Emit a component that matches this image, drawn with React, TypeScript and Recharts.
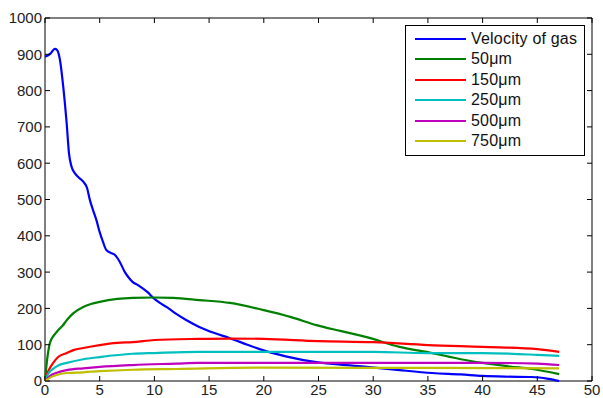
import React from "react";
import { Legend, Line, LineChart, ReferenceArea, XAxis, YAxis } from "recharts";

const velocityX = [0, 0.5, 0.9, 1.1, 1.37, 1.67, 1.98, 2.19, 2.43, 2.74, 3.1, 3.5, 3.85, 4.1, 4.4, 4.7, 5.0, 5.3, 5.6, 6.0, 6.4, 6.8, 7.3, 7.7, 8.0, 8.5, 8.9, 9.4, 9.9, 10.5, 11.1, 12, 12.9, 14.1, 15.5, 16.9, 18.5, 19.9, 22, 24.8, 27, 29.4, 32.4, 35.4, 38, 40, 42, 44.5, 46, 47];
const velocityY = [893, 902, 915, 912, 884, 810, 710, 628, 590, 572, 560, 549, 531, 499, 470, 443, 410, 383, 361, 353, 347, 330, 300, 283, 273, 264, 256, 244, 229, 215, 204, 185, 168, 149, 132, 118, 100, 85, 68, 52, 45, 39, 30, 22, 18, 14, 12, 11, 6, 0];

const um50X = [0, 0.2, 0.45, 0.8, 1.2, 1.6, 2.0, 2.6, 3.5, 4.2, 5, 6.6, 8, 10, 11.7, 14.1, 16.9, 19.9, 22.5, 24.8, 27, 29.4, 32.4, 35.4, 38, 40, 42.5, 44.5, 47];
const um50Y = [0, 60, 105, 125, 140, 152, 168, 187, 204, 212, 218, 226, 229, 230, 229, 223, 215, 196, 176, 154, 138, 121, 94, 77, 60, 50, 40, 33, 19];

const um150X = [0, 0.2, 0.45, 0.8, 1.2, 2, 2.6, 3.5, 5, 6.6, 8, 10, 14, 17, 20, 25, 30, 35, 40, 45, 47];
const um150Y = [0, 20, 36, 52, 66, 77, 85, 91, 99, 105, 107, 113, 116, 117, 116, 110, 107, 99, 94, 88, 80];

const um250X = [0, 0.3, 0.8, 1.3, 2, 3.5, 5, 8, 10, 14, 30, 35, 40, 45, 47];
const um250Y = [0, 20, 35, 44, 50, 60, 66, 75, 77, 80, 80, 77, 77, 72, 69];

const um500X = [0, 0.5, 1, 2, 3.5, 5, 8, 12, 14, 40, 45, 47];
const um500Y = [0, 15, 22, 30, 35, 39, 44, 48, 50, 50, 48, 44];

const um750X = [0, 0.5, 1, 2, 3.5, 5, 8, 12, 20, 35, 47];
const um750Y = [0, 10, 16, 22, 24, 27, 31, 33, 37, 36, 35];

const xTicks = [0, 5, 10, 15, 20, 25, 30, 35, 40, 45, 50];
const yTicks = [0, 100, 200, 300, 400, 500, 600, 700, 800, 900, 1000];

const series = [
  { name: "Velocity of gas", xs: velocityX, ys: velocityY, color: "#0000ff" },
  { name: "50\u03bcm", xs: um50X, ys: um50Y, color: "#008000" },
  { name: "150\u03bcm", xs: um150X, ys: um150Y, color: "#ff0000" },
  { name: "250\u03bcm", xs: um250X, ys: um250Y, color: "#00bfbf" },
  { name: "500\u03bcm", xs: um500X, ys: um500Y, color: "#bf00bf" },
  { name: "750\u03bcm", xs: um750X, ys: um750Y, color: "#bfbf00" },
];

const W = 603;
const H = 398;
const PLOT_LEFT = 45;
const PLOT_TOP = 18;
const PLOT_RIGHT = 592;
const PLOT_BOTTOM = 381;
const FONT = "'Liberation Sans', Arial, sans-serif";

function XTick({ x, payload }: any) {
  return (
    <g>
      <line x1={x} x2={x} y1={PLOT_BOTTOM} y2={PLOT_BOTTOM - 5} stroke="#000" />
      <line x1={x} x2={x} y1={PLOT_TOP} y2={PLOT_TOP + 5} stroke="#000" />
      <text x={x} y={PLOT_BOTTOM + 14} textAnchor="middle" fontSize={15} fill="#222" fontFamily={FONT}>
        {payload.value}
      </text>
    </g>
  );
}

function YTick({ y, payload }: any) {
  return (
    <g>
      <line x1={PLOT_LEFT} x2={PLOT_LEFT + 5} y1={y} y2={y} stroke="#000" />
      <line x1={PLOT_RIGHT} x2={PLOT_RIGHT - 5} y1={y} y2={y} stroke="#000" />
      <text x={PLOT_LEFT - 3} y={y} dy="0.36em" textAnchor="end" fontSize={15} fill="#222" fontFamily={FONT}>
        {payload.value}
      </text>
    </g>
  );
}

// legend keeps the plotting order instead of recharts' sorted payload
function LegendBox() {
  return (
    <div
      style={{
        width: 178,
        height: 129,
        border: "1px solid #000",
        background: "#fff",
        fontFamily: FONT,
        fontSize: 16,
        letterSpacing: 0.2,
        color: "#111",
        position: "relative",
      }}
    >
      {series.map((s, i) => (
        <div
          key={s.name}
          style={{ position: "absolute", left: 9, top: 3 + i * 20.4, height: 20, display: "flex", alignItems: "center" }}
        >
          <div style={{ width: 51, height: 2, background: s.color, marginRight: 5 }} />
          <span style={{ whiteSpace: "nowrap" }}>{s.name}</span>
        </div>
      ))}
    </div>
  );
}

export default function App() {
  return (
    <div style={{ position: "absolute", left: 0, top: 0, width: W, height: H, background: "#fff" }}>
      <LineChart
        width={W}
        height={H}
        margin={{ top: PLOT_TOP, right: W - PLOT_RIGHT, bottom: 0, left: 0 }}
      >
        <XAxis
          type="number"
          dataKey="x"
          domain={[0, 50]}
          ticks={xTicks}
          allowDuplicatedCategory={false}
          height={H - PLOT_BOTTOM}
          tickSize={0}
          tickMargin={0}
          tickLine={false}
          axisLine={false}
          tick={<XTick />}
        />
        <YAxis
          type="number"
          domain={[0, 1000]}
          ticks={yTicks}
          width={PLOT_LEFT}
          tickSize={0}
          tickMargin={0}
          tickLine={false}
          axisLine={false}
          tick={<YTick />}
        />
        <ReferenceArea x1={0} x2={50} y1={0} y2={1000} fill="none" fillOpacity={0} stroke="#000" strokeWidth={1} />
        {series.map((s) => (
          <Line
            key={s.name}
            name={s.name}
            data={s.xs.map((x, i) => ({ x, y: s.ys[i] }))}
            dataKey="y"
            type="monotone"
            stroke={s.color}
            strokeWidth={2.2}
            dot={false}
            isAnimationActive={false}
          />
        ))}
        <Legend
          layout="vertical"
          align="center"
          verticalAlign="middle"
          content={<LegendBox />}
          wrapperStyle={{ position: "absolute", left: 405, top: 25, width: 180, height: 131 }}
        />
      </LineChart>
    </div>
  );
}
